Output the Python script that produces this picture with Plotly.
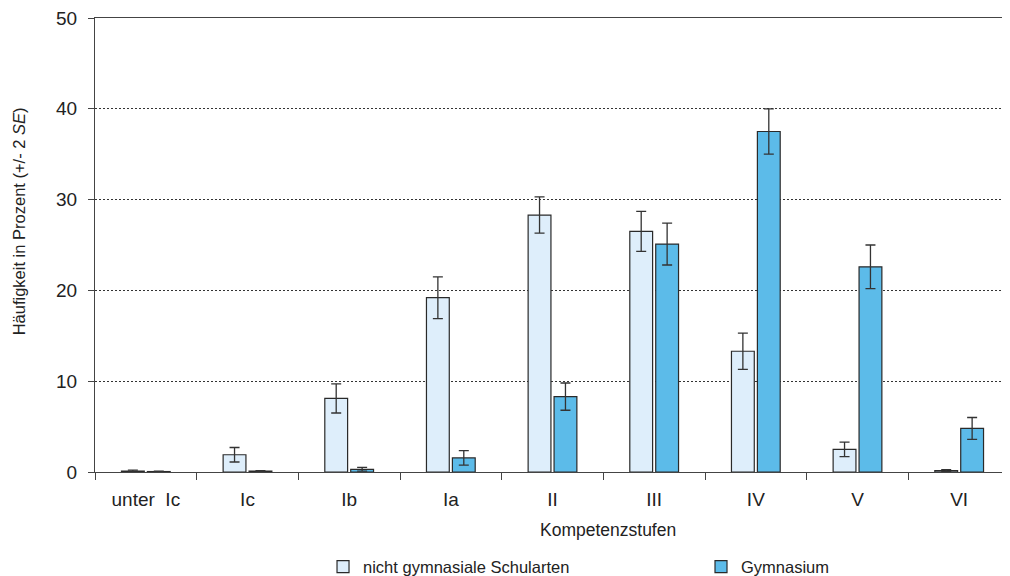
import plotly.graph_objects as go

categories = ["unter\u00a0\u00a0Ic", "Ic", "Ib", "Ia", "II", "III", "IV", "V", "VI"]
nicht_gym = [0.1, 1.9, 8.1, 19.2, 28.3, 26.5, 13.3, 2.5, 0.15]
nicht_gym_err = [0.1, 0.8, 1.6, 2.3, 2.0, 2.2, 2.0, 0.8, 0.12]
gym = [0.05, 0.1, 0.3, 1.55, 8.3, 25.1, 37.5, 22.6, 4.8]
gym_err = [0.03, 0.05, 0.2, 0.8, 1.5, 2.3, 2.5, 2.4, 1.2]

edge = "#2a2a2a"
fig = go.Figure()
fig.add_trace(go.Bar(
    x=categories, y=nicht_gym, name="nicht gymnasiale Schularten",
    marker=dict(color="#deeefb", line=dict(color=edge, width=1.2)),
    error_y=dict(type="data", array=nicht_gym_err, color="#333333", thickness=1.3, width=5),
    legend="legend",
))
fig.add_trace(go.Bar(
    x=categories, y=gym, name="Gymnasium",
    marker=dict(color="#5cbbe9", line=dict(color=edge, width=1.2)),
    error_y=dict(type="data", array=gym_err, color="#333333", thickness=1.3, width=5),
    legend="legend2",
))

font = "Liberation Sans, Arial, sans-serif"
leg_common = dict(orientation="h", yanchor="middle", xanchor="left",
                  font=dict(size=16.5), bgcolor="rgba(0,0,0,0)")
# page body has an 8px margin, so the figure is sized/offset to compensate
fig.update_layout(
    width=1002, height=568,
    margin=dict(l=87, r=0, t=10, b=104, autoexpand=False),
    plot_bgcolor="white", paper_bgcolor="white",
    barmode="group", bargap=0.49, bargroupgap=0.12,
    font=dict(family=font, size=18, color="#222222"),
    showlegend=True,
    legend=dict(x=0.2492, y=-0.209, **leg_common),
    legend2=dict(x=0.6623, y=-0.209, **leg_common),
    xaxis=dict(
        type="category", range=[-0.5, 8.5], tickson="boundaries",
        showline=True, linecolor="#444444", linewidth=1.2, mirror=True,
        ticks="outside", ticklen=7, tickcolor="#444444",
        showgrid=False, tickfont=dict(size=19), automargin=False,
        ticklabelstandoff=10, ticklabeloverflow="allow",
    ),
    yaxis=dict(
        range=[0, 50], tickvals=[0, 10, 20, 30, 40, 50],
        showline=True, linecolor="#444444", linewidth=1.2,
        ticks="outside", ticklen=6, tickcolor="#444444",
        showgrid=True, gridcolor="#333333", griddash="1.5px,2.5px", gridwidth=1,
        zeroline=False, tickfont=dict(size=19), automargin=False,
        ticklabelstandoff=7, ticklabeloverflow="allow",
    ),
    annotations=[
        dict(text="Kompetenzstufen", xref="paper", yref="paper", x=0.5612, y=-0.1278,
             xanchor="center", yanchor="middle", showarrow=False, font=dict(size=17.5)),
        dict(text="Häufigkeit in Prozent (+/- 2 <i>SE</i>)", xref="paper", yref="paper",
             x=-0.0831, y=0.552, xanchor="center", yanchor="middle", textangle=-90,
             showarrow=False, font=dict(size=16.5)),
    ],
)

fig.write_html("out.html")
